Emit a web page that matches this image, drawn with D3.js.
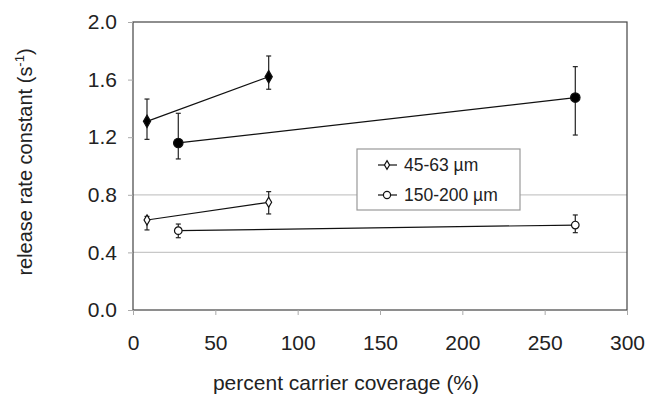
<!DOCTYPE html>
<html>
<head>
<meta charset="utf-8">
<script src="https://cdn.jsdelivr.net/npm/d3@7"></script>
<style>
  body { margin: 0; background: #fff; }
  text { font-family: "Liberation Sans", Arial, sans-serif; fill: #222; }
</style>
</head>
<body>
<div id="chart"></div>
<script>
// data (error bar ends given as low / high values)
const coverageSmallFilled = [8.5, 82.4];
const rateSmallFilled = [1.31, 1.62];
const lowSmallFilled = [1.185, 1.533];
const highSmallFilled = [1.465, 1.764];

const coverageLargeFilled = [27.5, 268.6];
const rateLargeFilled = [1.16, 1.475];
const lowLargeFilled = [1.049, 1.215];
const highLargeFilled = [1.366, 1.69];

const coverageSmallOpen = [8.5, 82.4];
const rateSmallOpen = [0.625, 0.748];
const lowSmallOpen = [0.556, 0.667];
const highSmallOpen = [0.65, 0.822];

const coverageLargeOpen = [27.5, 268.6];
const rateLargeOpen = [0.551, 0.59];
const lowLargeOpen = [0.502, 0.537];
const highLargeOpen = [0.597, 0.66];

const xTicks = [0, 50, 100, 150, 200, 250, 300];
const yTicks = [0.0, 0.4, 0.8, 1.2, 1.6, 2.0];
const gridTicks = [0.4, 0.8];
const legendLabels = ["45-63 µm", "150-200 µm"];

const WIDTH = 647;
const HEIGHT = 396;
const margin = { top: 22, right: 20, bottom: 86, left: 133 };

const svg = d3.select("#chart").append("svg")
  .attr("width", WIDTH).attr("height", HEIGHT);

const x = d3.scaleLinear().domain([0, 300]).range([margin.left, WIDTH - margin.right]);
const y = d3.scaleLinear().domain([0, 2]).range([HEIGHT - margin.bottom, margin.top]);

// gridlines
svg.append("g").selectAll("line")
  .data(gridTicks).enter().append("line")
  .attr("x1", x(0)).attr("x2", x(300))
  .attr("y1", d => y(d)).attr("y2", d => y(d))
  .attr("stroke", "#c8c8c8").attr("stroke-width", 1.2);

// frame
svg.append("rect")
  .attr("x", x(0)).attr("y", y(2))
  .attr("width", x(300) - x(0)).attr("height", y(0) - y(2))
  .attr("fill", "none").attr("stroke", "#444").attr("stroke-width", 1.2);

// axes
const xAxis = svg.append("g")
  .attr("transform", `translate(0,${y(0)})`)
  .call(d3.axisBottom(x).tickValues(xTicks).tickSize(5).tickPadding(20).tickFormat(d3.format("d")));
xAxis.select(".domain").remove();
xAxis.selectAll("line").attr("stroke", "#aaa");
xAxis.selectAll("text").attr("font-size", 21).attr("fill", "#222");

const yAxis = svg.append("g")
  .attr("transform", `translate(${x(0)},0)`)
  .call(d3.axisLeft(y).tickValues(yTicks).tickSize(5).tickPadding(11).tickFormat(d3.format(".1f")));
yAxis.select(".domain").remove();
yAxis.selectAll("line").attr("stroke", "#aaa");
yAxis.selectAll("text").attr("font-size", 21).attr("fill", "#222");

// axis titles
svg.append("text")
  .attr("x", (x(0) + x(300)) / 2 - 34).attr("y", 390)
  .attr("text-anchor", "middle").attr("font-size", 21)
  .text("percent carrier coverage (%)");

const yTitle = svg.append("text")
  .attr("transform", `translate(32,162) rotate(-90)`)
  .attr("text-anchor", "middle").attr("font-size", 20);
yTitle.append("tspan").text("release rate constant (s");
yTitle.append("tspan").attr("dy", -8).attr("font-size", 13).text("-1");
yTitle.append("tspan").attr("dy", 8).text(")");

const diamond = d3.symbol().type(d3.symbolDiamond);
const circle = d3.symbol().type(d3.symbolCircle);

function drawSeries(xs, ys, lows, highs, shape, size, filled) {
  const pts = xs.map((d, i) => ({ x: d, y: ys[i], lo: lows[i], hi: highs[i] }));
  const g = svg.append("g");
  g.append("path")
    .attr("d", d3.line().x(d => x(d.x)).y(d => y(d.y))(pts))
    .attr("fill", "none").attr("stroke", "#111").attr("stroke-width", 1.2);
  const eb = g.selectAll(".eb").data(pts).enter().append("g");
  eb.append("line")
    .attr("x1", d => x(d.x)).attr("x2", d => x(d.x))
    .attr("y1", d => y(d.hi)).attr("y2", d => y(d.lo))
    .attr("stroke", "#222").attr("stroke-width", 1.2);
  ["hi", "lo"].forEach(k => {
    eb.append("line")
      .attr("x1", d => x(d.x) - 2.5).attr("x2", d => x(d.x) + 2.5)
      .attr("y1", d => y(d[k])).attr("y2", d => y(d[k]))
      .attr("stroke", "#222").attr("stroke-width", 1.2);
  });
  g.selectAll(".pt").data(pts).enter().append("path")
    .attr("transform", d => `translate(${x(d.x)},${y(d.y)})`)
    .attr("d", shape.size(size)())
    .attr("fill", filled ? "#000" : "#fff")
    .attr("stroke", "#111").attr("stroke-width", 1.2);
}

drawSeries(coverageSmallFilled, rateSmallFilled, lowSmallFilled, highSmallFilled, diamond, 45, true);
drawSeries(coverageLargeFilled, rateLargeFilled, lowLargeFilled, highLargeFilled, circle, 70, true);
drawSeries(coverageSmallOpen, rateSmallOpen, lowSmallOpen, highSmallOpen, diamond, 30, false);
drawSeries(coverageLargeOpen, rateLargeOpen, lowLargeOpen, highLargeOpen, circle, 45, false);

// legend
const legend = svg.append("g").attr("transform", "translate(357,149)");
legend.append("rect")
  .attr("width", 163).attr("height", 61)
  .attr("fill", "#fff").attr("stroke", "#999").attr("stroke-width", 1.2);
legendLabels.forEach((lab, i) => {
  const ly = 16 + i * 30;
  legend.append("line")
    .attr("x1", 21).attr("x2", 40).attr("y1", ly).attr("y2", ly)
    .attr("stroke", "#111").attr("stroke-width", 1.2);
  legend.append("path")
    .attr("transform", `translate(30,${ly})`)
    .attr("d", (i === 0 ? diamond.size(22) : circle.size(40))())
    .attr("fill", "#fff").attr("stroke", "#111").attr("stroke-width", 1.2);
  legend.append("text")
    .attr("x", 47).attr("y", ly + 6).attr("font-size", 17.5)
    .text(lab);
});
</script>
</body>
</html>
